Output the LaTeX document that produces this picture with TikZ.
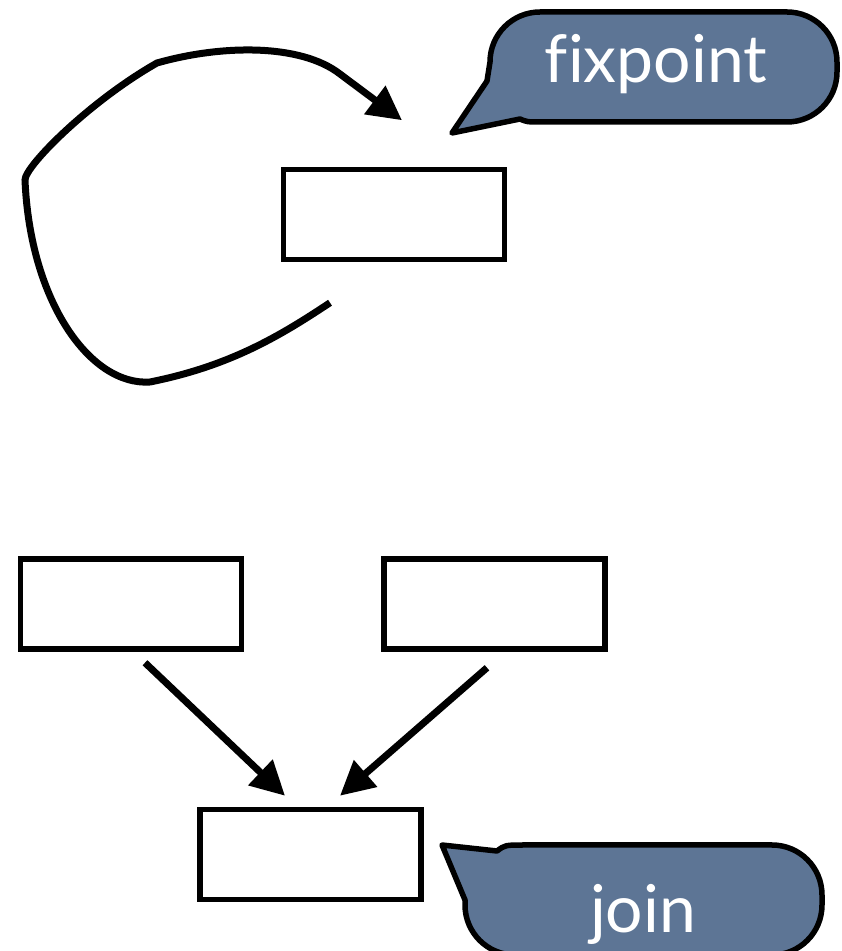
\documentclass[tikz,border=0pt]{standalone}
\usepackage{fontspec}
\setmainfont[Ligatures=NoCommon]{Lato}
\usetikzlibrary{arrows.meta}
\definecolor{bubblefill}{RGB}{93,117,149}
\begin{document}
\begin{tikzpicture}[x=1pt,y=1pt,
  box/.style={draw=black, line width=5.5pt, fill=white,
    minimum width=221pt, minimum height=90pt, inner sep=0pt},
  flow/.style={line width=7pt, -{Triangle[length=34pt,width=34pt]}},
  bubble/.style={draw=black, line width=5.5pt, fill=bubblefill, line join=round},
  bubbletext/.style={text=white, font=\fontsize{66}{70}\selectfont,
    anchor=base, inner sep=0pt}]
\useasboundingbox (0,0) rectangle (842,951);
\clip (0,0) rectangle (842,951);

% boxes
\node[box] (T) at (394,736.5) {};
\node[box] (L) at (131,347) {};
\node[box] (R) at (494.5,347) {};
\node[box] (B) at (310.5,96.5) {};

% loop back into the top box
\draw[flow] ([shift={(-64,-40.5)}]T.south)
  .. controls (280,615) and (230,585) .. (150,569)
  .. controls (90,565) and (30,650) .. (25,771)
  .. controls (25,785) and (90,850) .. (157,888)
  .. controls (220,906) and (300,908) .. (340,877)
  -- ([shift={(8,46.5)}]T.north);

% two inputs joining
\draw[flow] ([shift={(14,-11)}]L.south) -- ([shift={(-25.5,11)}]B.north);
\draw[flow] ([shift={(-7.5,-16)}]R.south) -- ([shift={(29.5,11)}]B.north);

% callout: fixpoint
\filldraw[bubble] (452,818) -- (520,832) .. controls (527,829) .. (542,829)
  -- (787,829) arc[start angle=-90,end angle=0,radius=50]
  -- (837,889) arc[start angle=0,end angle=90,radius=50]
  -- (540,939) arc[start angle=90,end angle=180,radius=50]
  -- (487,870) -- cycle;
\node[bubbletext] (fixlabel) at (656,868) {fixpoint};

% callout: join
\filldraw[bubble] (442,106) -- (497,100) .. controls (505,106) .. (525,106)
  -- (772,106) arc[start angle=90,end angle=0,radius=50]
  -- (822,46) arc[start angle=0,end angle=-90,radius=50]
  -- (515,-4) arc[start angle=-90,end angle=-180,radius=50]
  -- (465,51) -- cycle;
\node[bubbletext] (joinlabel) at (643,18) {join};
\end{tikzpicture}
\end{document}
